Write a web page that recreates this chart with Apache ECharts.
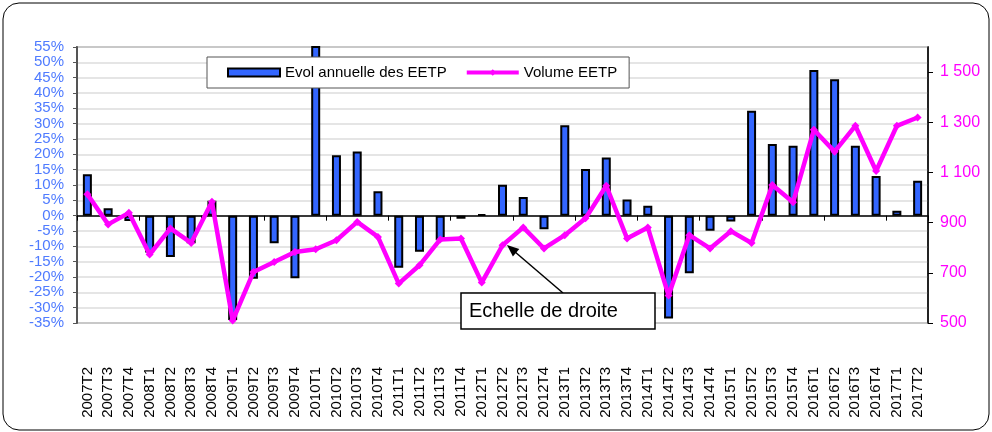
<!DOCTYPE html>
<html>
<head>
<meta charset="utf-8">
<script src="https://cdn.jsdelivr.net/npm/echarts@6/dist/echarts.min.js"></script>
<style>
  html, body { margin: 0; padding: 0; background: #fff; }
  #chart { width: 992px; height: 432px; }
</style>
</head>
<body>
<div id="chart"></div>
<script>
var quarters = ['2007T2','2007T3','2007T4',
  '2008T1','2008T2','2008T3','2008T4',
  '2009T1','2009T2','2009T3','2009T4',
  '2010T1','2010T2','2010T3','2010T4',
  '2011T1','2011T2','2011T3','2011T4',
  '2012T1','2012T2','2012T3','2012T4',
  '2013T1','2013T2','2013T3','2013T4',
  '2014T1','2014T2','2014T3','2014T4',
  '2015T1','2015T2','2015T3','2015T4',
  '2016T1','2016T2','2016T3','2016T4',
  '2017T1','2017T2'];

// evolution annuelle (%)
var evolAnnuelle = [13.5, 2.4, -1.7,
  -12, -13.5, -9, 4.9,
  -34, -20.6, -9, -20.4,
  58, 19.7, 20.9, 8,
  -17, -11.8, -8, -1,
  0.5, 10.1, 6.1, -4.4,
  29.5, 15.2, 19, 5.3,
  3.2, -33.5, -18.8, -4.9,
  -1.9, 34.2, 23.4, 22.8,
  47.5, 44.5, 22.8, 12.9,
  1.6, 11.4];

// volume EETP (echelle de droite)
var volumeEETP = [1013, 893, 939,
  773, 877, 819, 983,
  510, 703, 743, 783,
  794, 830, 903, 843,
  657, 730, 833, 837,
  661, 810, 881, 797,
  850, 917, 1047, 837,
  881, 610, 850, 797,
  866, 819, 1050, 981,
  1270, 1183, 1286, 1106,
  1286, 1319];

var rightTicks = [500, 700, 900, 1100, 1300, 1500];

var myChart = echarts.init(document.getElementById('chart'));

var option = {
    animation: false,
    textStyle: { fontFamily: 'Liberation Sans, Arial, sans-serif' },
    grid: {
        left: 77, right: 64, top: 47, bottom: 109,
        show: true,
        borderColor: '#8c8c8c',
        borderWidth: 2
    },
    legend: {
        left: 207, top: 57,
        padding: [8, 12, 8, 20],
        itemGap: 18,
        itemWidth: 52,
        itemHeight: 8,
        borderColor: '#555',
        borderWidth: 1,
        backgroundColor: '#fff',
        textStyle: { fontSize: 15, color: '#000' },
        data: [
            { name: 'Evol annuelle des EETP', icon: 'rect' },
            { name: 'Volume EETP', lineStyle: { width: 4 } }
        ]
    },
    xAxis: [
        {
            type: 'category',
            data: quarters,
            position: 'bottom',
            axisLine: { onZero: true, onZeroAxisIndex: 0, lineStyle: { color: '#000', width: 1.5 } },
            axisTick: { show: true, length: 5, lineStyle: { color: '#000' } },
            axisLabel: { show: false },
            splitLine: { show: false }
        },
        {
            type: 'category',
            data: quarters,
            position: 'bottom',
            axisLine: { show: false, onZero: false },
            axisTick: { show: false },
            axisLabel: { rotate: 90, margin: 44, fontSize: 15, color: '#000', interval: 0 },
            splitLine: { show: false }
        }
    ],
    yAxis: [
        {
            type: 'value',
            min: -35, max: 55, interval: 5,
            position: 'left',
            axisLine: { show: true, lineStyle: { color: '#555', width: 2 } },
            axisTick: { show: true, length: 4, lineStyle: { color: '#555' } },
            axisLabel: {
                formatter: '{value}%', fontSize: 15, lineHeight: 13, color: '#4f7bff', margin: 13,
                showMinLabel: true, showMaxLabel: true, hideOverlap: false
            },
            splitLine: { lineStyle: { color: '#dcdcdc', width: 1.5 } }
        },
        {
            type: 'value',
            min: 500, max: 1600,
            position: 'right',
            axisLine: { show: true, lineStyle: { color: '#000', width: 1.5 } },
            axisTick: { show: true, length: 5, customValues: rightTicks, lineStyle: { color: '#000' } },
            axisLabel: {
                customValues: rightTicks,
                fontSize: 16, color: '#ff00ff', margin: 12,
                formatter: function (v) {
                    return String(v).replace(/\B(?=(\d{3})+(?!\d))/g, ' ');
                }
            },
            splitLine: { show: false }
        }
    ],
    series: [
        {
            name: 'Evol annuelle des EETP',
            type: 'bar',
            xAxisIndex: 0,
            yAxisIndex: 0,
            barWidth: 9,
            clip: true,
            data: evolAnnuelle,
            itemStyle: { color: '#3366ff', borderColor: '#000', borderWidth: 2 },
            z: 2
        },
        {
            name: 'Volume EETP',
            type: 'line',
            xAxisIndex: 0,
            yAxisIndex: 1,
            data: volumeEETP,
            symbol: 'diamond',
            symbolSize: 8,
            itemStyle: { color: '#ff00ff' },
            lineStyle: { color: '#ff00ff', width: 4.5 },
            z: 3
        }
    ],
    graphic: [
        {
            type: 'rect',
            shape: { x: 3, y: 3, width: 986, height: 427, r: 16 },
            style: { fill: null, stroke: '#000', lineWidth: 1 },
            silent: true
        },
        {
            type: 'line',
            shape: { x1: 563, y1: 293, x2: 511, y2: 248.5 },
            style: { stroke: '#000', lineWidth: 1.5 },
            z: 10
        },
        {
            type: 'polygon',
            shape: { points: [[507, 245], [519.3, 249], [512.9, 256.6]] },
            style: { fill: '#000' },
            z: 10
        },
        {
            type: 'rect',
            shape: { x: 461, y: 293, width: 194, height: 36 },
            style: { fill: '#fff', stroke: '#000', lineWidth: 1.5 },
            z: 10
        },
        {
            type: 'text',
            x: 469, y: 311,
            style: {
                text: 'Echelle de droite',
                fontSize: 20,
                fontFamily: 'Liberation Sans, Arial, sans-serif',
                fill: '#000',
                verticalAlign: 'middle'
            },
            z: 11
        }
    ]
};

myChart.setOption(option);
</script>
</body>
</html>
